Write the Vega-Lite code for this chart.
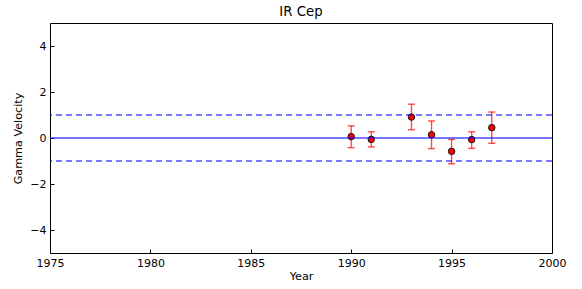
{
  "$schema": "https://vega.github.io/schema/vega-lite/v6.json",
  "autosize": {"type": "none"},
  "padding": {"left": 50, "top": 23, "right": 30, "bottom": 36},
  "width": 502,
  "height": 230,
  "title": {"text": "IR Cep", "font": "DejaVu Sans", "fontSize": 13.3, "fontWeight": "normal", "offset": 5, "color": "black"},
  "config": {
    "view": {"stroke": "black", "strokeWidth": 1},
    "axis": {
      "labelFont": "DejaVu Sans", "titleFont": "DejaVu Sans", "labelFontSize": 11, "titleFontSize": 11.2,
      "titleFontWeight": "normal", "labelColor": "black", "titleColor": "black",
      "grid": false, "domain": false, "tickColor": "black", "tickSize": -4, "labelPadding": 8,
      "labelFlush": false, "labelOverlap": false
    }
  },
  "datasets": {
    "pts": [
      {"year": 1990, "v": 0.06, "lo": -0.42, "hi": 0.53},
      {"year": 1991, "v": -0.06, "lo": -0.39, "hi": 0.27},
      {"year": 1993, "v": 0.91, "lo": 0.36, "hi": 1.47},
      {"year": 1994, "v": 0.14, "lo": -0.46, "hi": 0.74},
      {"year": 1995, "v": -0.58, "lo": -1.12, "hi": -0.06},
      {"year": 1996, "v": -0.07, "lo": -0.45, "hi": 0.27},
      {"year": 1997, "v": 0.45, "lo": -0.23, "hi": 1.13}
    ],
    "lines": [
      {"y": 0, "kind": "solid"},
      {"y": 1, "kind": "dashed"},
      {"y": -1, "kind": "dashed"}
    ]
  },
  "layer": [
    {
      "data": {"name": "pts"},
      "mark": {"type": "rule", "color": "red", "opacity": 0.7, "strokeWidth": 1.4},
      "encoding": {
        "x": {"field": "year", "type": "quantitative", "scale": {"domain": [1975, 2000], "zero": false},
              "axis": {"values": [1975, 1980, 1985, 1990, 1995, 2000], "format": "d", "title": "Year", "titlePadding": 2}},
        "y": {"field": "lo", "type": "quantitative", "scale": {"domain": [-5, 5]},
              "axis": {"values": [-4, -2, 0, 2, 4], "title": "Gamma Velocity", "titlePadding": 6}},
        "y2": {"field": "hi"}
      }
    },
    {
      "data": {"name": "pts"},
      "mark": {"type": "tick", "orient": "horizontal", "color": "red", "opacity": 0.7, "size": 7, "thickness": 1.4},
      "encoding": {
        "x": {"field": "year", "type": "quantitative", "scale": {"domain": [1975, 2000], "zero": false}},
        "y": {"field": "lo", "type": "quantitative", "scale": {"domain": [-5, 5]}}
      }
    },
    {
      "data": {"name": "pts"},
      "mark": {"type": "tick", "orient": "horizontal", "color": "red", "opacity": 0.7, "size": 7, "thickness": 1.4},
      "encoding": {
        "x": {"field": "year", "type": "quantitative", "scale": {"domain": [1975, 2000], "zero": false}},
        "y": {"field": "hi", "type": "quantitative", "scale": {"domain": [-5, 5]}}
      }
    },
    {
      "data": {"name": "pts"},
      "mark": {"type": "point", "filled": true, "fill": "red", "stroke": "#111111", "strokeWidth": 1, "size": 42, "opacity": 1},
      "encoding": {
        "x": {"field": "year", "type": "quantitative", "scale": {"domain": [1975, 2000], "zero": false}},
        "y": {"field": "v", "type": "quantitative", "scale": {"domain": [-5, 5]}}
      }
    },
    {
      "data": {"name": "lines"},
      "transform": [{"filter": "datum.kind == 'solid'"}],
      "mark": {"type": "rule", "color": "blue", "opacity": 0.7, "strokeWidth": 1.3},
      "encoding": {"y": {"field": "y", "type": "quantitative", "scale": {"domain": [-5, 5]}}}
    },
    {
      "data": {"name": "lines"},
      "transform": [{"filter": "datum.kind == 'dashed'"}],
      "mark": {"type": "rule", "color": "blue", "opacity": 0.7, "strokeWidth": 1.3, "strokeDash": [6, 4]},
      "encoding": {"y": {"field": "y", "type": "quantitative", "scale": {"domain": [-5, 5]}}}
    }
  ]
}
